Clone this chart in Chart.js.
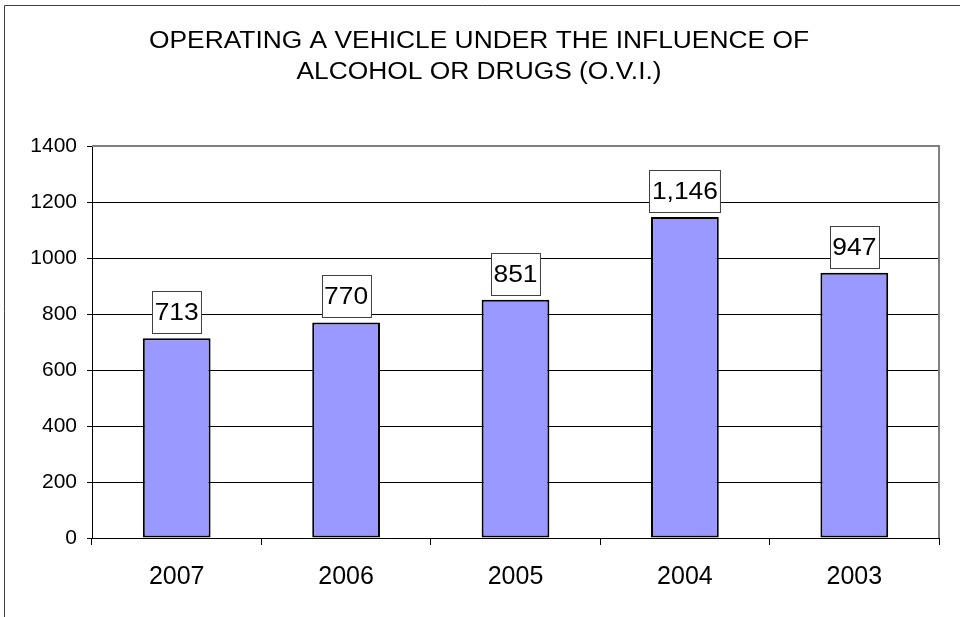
<!DOCTYPE html>
<html>
<head>
<meta charset="utf-8">
<script src="https://cdn.jsdelivr.net/npm/chart.js@4"></script>
<style>
  body { margin: 0; background: #fff; }
  canvas { display: block; }
</style>
</head>
<body>
<canvas id="grafico" width="960" height="617"></canvas>
<script>
// dados do grafico
const anos = ['2007', '2006', '2005', '2004', '2003'];
const ocorrencias = [713, 770, 851, 1146, 947];
const titulo = ['OPERATING A VEHICLE UNDER THE INFLUENCE OF', 'ALCOHOL OR DRUGS (O.V.I.)'];
const eixoY = { min: 0, max: 1400, passo: 200 };

const fonte = '"Liberation Sans", Arial, sans-serif';
const esticar = 1.146; // texto original vem esticado na horizontal

// moldura externa, titulo e borda cinza do plot
const molduraPlugin = {
    id: 'moldura',
    beforeDraw(chart) {
        const ctx = chart.ctx;
        ctx.save();
        ctx.fillStyle = '#fff';
        ctx.fillRect(0, 0, chart.width, chart.height);
        ctx.strokeStyle = '#404040';
        ctx.lineWidth = 1;
        ctx.beginPath();
        ctx.moveTo(4.5, chart.height);
        ctx.lineTo(4.5, 5.5);
        ctx.lineTo(chart.width, 5.5);
        ctx.stroke();

        ctx.fillStyle = '#000';
        ctx.font = '23px ' + fonte;
        ctx.textAlign = 'center';
        ctx.textBaseline = 'middle';
        ctx.translate(479, 0);
        ctx.scale(esticar, 1);
        ctx.fillText(titulo[0], 0, 42);
        ctx.fillText(titulo[1], 0, 73);
        ctx.restore();
    },
    afterDraw(chart) {
        const a = chart.chartArea;
        const ctx = chart.ctx;
        ctx.save();
        ctx.strokeStyle = '#808080';
        ctx.lineWidth = 2;
        ctx.beginPath();
        ctx.moveTo(a.left, a.top);
        ctx.lineTo(a.right, a.top);
        ctx.lineTo(a.right, a.bottom);
        ctx.stroke();
        ctx.restore();
    }
};

// caixas com os valores acima das barras
const rotulosPlugin = {
    id: 'rotulos',
    afterDatasetsDraw(chart) {
        const ctx = chart.ctx;
        const meta = chart.getDatasetMeta(0);
        ctx.save();
        ctx.font = '23px ' + fonte;
        ctx.textAlign = 'center';
        ctx.textBaseline = 'middle';
        meta.data.forEach((bar, i) => {
            const texto = ocorrencias[i].toLocaleString('en-US');
            const w = ctx.measureText(texto).width * esticar + 5;
            const h = 42;
            const x = Math.round(bar.x - w / 2) + 0.5;
            const y = Math.round(bar.y - 5 - h) + 0.5;
            ctx.fillStyle = '#fff';
            ctx.fillRect(x, y, w, h);
            ctx.strokeStyle = '#404040';
            ctx.lineWidth = 1;
            ctx.strokeRect(x, y, w, h);
            ctx.save();
            ctx.translate(bar.x, y + h / 2 + 1);
            ctx.scale(esticar, 1);
            ctx.fillStyle = '#000';
            ctx.fillText(texto, 0, 0);
            ctx.restore();
        });
        ctx.restore();
    }
};

const ctx = document.getElementById('grafico').getContext('2d');
const grafico = new Chart(ctx, {
    type: 'bar',
    data: {
        labels: anos,
        datasets: [{
            data: ocorrencias,
            backgroundColor: '#9999FF',
            borderColor: '#000',
            borderWidth: 2,
            borderSkipped: false,
            barPercentage: 0.4,
            categoryPercentage: 1
        }]
    },
    options: {
        responsive: false,
        animation: false,
        layout: { padding: { top: 146, right: 21, left: 0, bottom: 0 } },
        plugins: {
            legend: { display: false },
            title: { display: false },
            tooltip: { enabled: false }
        },
        scales: {
            x: {
                afterFit: s => { s.height = 79; },
                grid: {
                    offset: true,
                    drawOnChartArea: false,
                    tickLength: 7,
                    tickColor: '#000'
                },
                border: { color: '#000', width: 1 },
                ticks: {
                    color: '#000',
                    padding: 17,
                    font: { family: fonte, size: 25 }
                }
            },
            y: {
                min: eixoY.min,
                max: eixoY.max,
                afterFit: s => { s.width = 92; },
                grid: {
                    color: c => (c.tick && c.tick.value === eixoY.max) ? '#808080' : '#000',
                    lineWidth: 1,
                    tickLength: 5,
                    tickColor: '#000'
                },
                border: { color: '#000', width: 1 },
                ticks: {
                    stepSize: eixoY.passo,
                    color: '#000',
                    padding: 10,
                    font: { family: fonte, size: 21 },
                    callback: v => String(v)
                }
            }
        }
    },
    plugins: [molduraPlugin, rotulosPlugin]
});
</script>
</body>
</html>
